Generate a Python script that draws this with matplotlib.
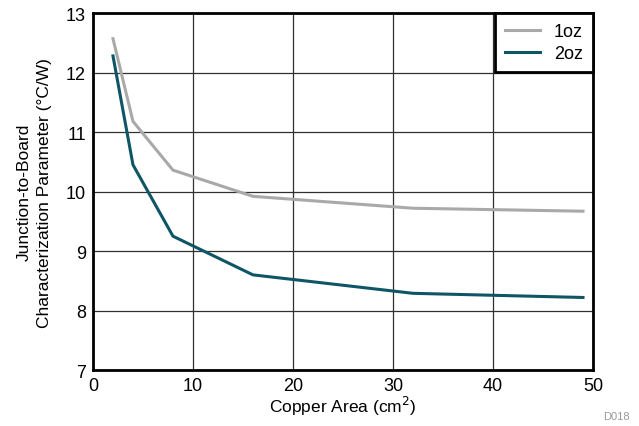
import matplotlib
matplotlib.use("Agg")
import matplotlib.pyplot as plt

# Copper area (cm^2) and junction-to-board parameter (degC/W)
area = [2, 4, 8, 16, 32, 49]
psi_1oz = [12.57, 11.18, 10.36, 9.92, 9.72, 9.67]
psi_2oz = [12.28, 10.45, 9.25, 8.60, 8.29, 8.22]
labels = ["1oz", "2oz"]

plt.rcParams["font.family"] = ["Liberation Sans", "DejaVu Sans"]

fig = plt.figure(figsize=(6.39, 4.27), dpi=100)
ax = fig.add_axes([0.1455, 0.131, 0.7825, 0.836])

ax.plot(area, psi_1oz, color="#a9a9a9", lw=2.2, label=labels[0])
ax.plot(area, psi_2oz, color="#0e5566", lw=2.2, label=labels[1])

ax.set_xlim(0, 50)
ax.set_ylim(7, 13)
ax.set_xticks(range(0, 51, 10))
ax.set_yticks(range(7, 14))
ax.grid(True, color="#303030", lw=0.9)
ax.set_axisbelow(True)
ax.tick_params(labelsize=13, length=0, pad=5)
for s in ax.spines.values():
    s.set_linewidth(2)
    s.set_color("black")

ax.set_xlabel("Copper Area (cm$^2$)", fontsize=12.5, labelpad=0)
ax.set_ylabel("Junction-to-Board\nCharacterization Parameter (°C/W)", fontsize=12.5,
              labelpad=10, linespacing=1.45)

leg = ax.legend(loc="upper right", fontsize=13, fancybox=False, framealpha=1,
                borderaxespad=0, handlelength=1.9, borderpad=0.55, labelspacing=0.3,
                handletextpad=0.8)
leg.get_frame().set_edgecolor("black")
leg.get_frame().set_linewidth(2)

fig.text(0.985, 0.012, "D018", fontsize=8, color="#999999", ha="right", va="bottom")

fig.savefig("out.png", dpi=100)
